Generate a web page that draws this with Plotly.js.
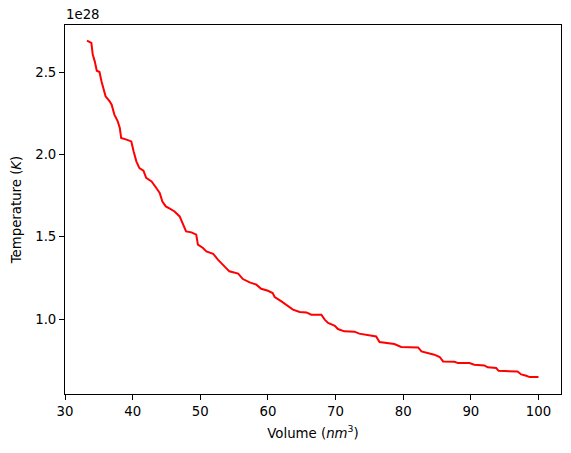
<!DOCTYPE html>
<html>
<head>
<meta charset="utf-8">
<script src="https://cdn.plot.ly/plotly-3.0.1.min.js"></script>
<style>html,body{margin:0;padding:0;background:#fff;}#chart{width:571px;height:453px;}</style>
</head>
<body>
<div id="chart"></div>
<script>
// Volume (nm^3)
const volume = [33.25, 33.9, 34.1, 34.4, 34.7, 35.1, 35.4, 35.7, 36.0, 36.6, 36.9, 37.3, 37.8, 38.1, 38.3, 39.1, 39.8, 40.15, 40.55, 41.0, 41.6, 42.0, 42.8, 43.5, 44.0, 44.4, 44.9, 45.5, 46.2, 46.95, 47.4, 47.9, 48.7, 49.4, 49.65, 50.4, 50.9, 51.9, 52.6, 53.6, 54.3, 55.6, 56.3, 57.3, 58.3, 59.0, 60.0, 60.7, 61.0, 62.0, 62.95, 63.7, 64.7, 65.7, 66.4, 67.9, 68.4, 68.9, 69.9, 70.35, 71.3, 72.8, 73.5, 74.5, 75.0, 76.0, 76.5, 77.5, 78.7, 79.7, 82.2, 82.7, 83.65, 84.6, 85.4, 85.9, 87.6, 88.1, 89.8, 90.5, 92.0, 92.5, 93.75, 94.1, 96.9, 97.45, 98.2, 98.7, 100.0];
// Temperature in units of 1e28 K
const temperatureE28 = [2.693, 2.679, 2.608, 2.567, 2.510, 2.502, 2.445, 2.405, 2.354, 2.324, 2.303, 2.243, 2.202, 2.162, 2.101, 2.091, 2.080, 2.019, 1.959, 1.918, 1.902, 1.858, 1.837, 1.797, 1.766, 1.715, 1.685, 1.671, 1.654, 1.624, 1.584, 1.533, 1.527, 1.513, 1.452, 1.432, 1.411, 1.397, 1.361, 1.320, 1.290, 1.276, 1.243, 1.223, 1.209, 1.184, 1.172, 1.158, 1.134, 1.107, 1.081, 1.057, 1.043, 1.040, 1.026, 1.026, 0.996, 0.976, 0.959, 0.939, 0.925, 0.923, 0.911, 0.905, 0.898, 0.894, 0.860, 0.854, 0.848, 0.830, 0.827, 0.803, 0.793, 0.783, 0.769, 0.742, 0.740, 0.732, 0.732, 0.722, 0.718, 0.706, 0.702, 0.685, 0.681, 0.663, 0.655, 0.647, 0.647];
const xTicks = [30, 40, 50, 60, 70, 80, 90, 100];
const yTicks = [1.0, 1.5, 2.0, 2.5];
const yTickLabels = ['1.0', '1.5', '2.0', '2.5'];

const font = {family: 'DejaVu Sans, sans-serif', size: 13.3, color: '#000'};

const trace = {
  x: volume, y: temperatureE28, type: 'scatter', mode: 'lines',
  line: {color: '#ff0000', width: 2}, hoverinfo: 'skip'
};

const axisCommon = {
  showgrid: false, zeroline: false, showline: true, mirror: true,
  linecolor: '#000', linewidth: 1, ticks: 'outside', ticklen: 5, tickwidth: 1,
  tickcolor: '#000', tickfont: font
};

const layout = {
  width: 571, height: 453,
  margin: {l: 65, r: 10, t: 25, b: 59},
  paper_bgcolor: '#fff', plot_bgcolor: '#fff',
  showlegend: false, font: font,
  xaxis: Object.assign({}, axisCommon, {
    range: [30, 103.33], tickvals: xTicks, ticktext: xTicks.map(String),
    title: {text: 'Volume (<i>nm</i><sup>3</sup>)', font: font, standoff: 10}
  }),
  yaxis: Object.assign({}, axisCommon, {
    range: [0.544, 2.788], tickvals: yTicks, ticktext: yTickLabels,
    title: {text: 'Temperature (<i>K</i>)', font: font, standoff: 10}
  }),
  annotations: [{
    text: '1e28', xref: 'paper', yref: 'paper', x: 0, y: 1, xanchor: 'left', yanchor: 'bottom',
    showarrow: false, font: font, xshift: -1, yshift: 1
  }]
};

Plotly.newPlot('chart', [trace], layout, {staticPlot: true, displayModeBar: false});
</script>
</body>
</html>
